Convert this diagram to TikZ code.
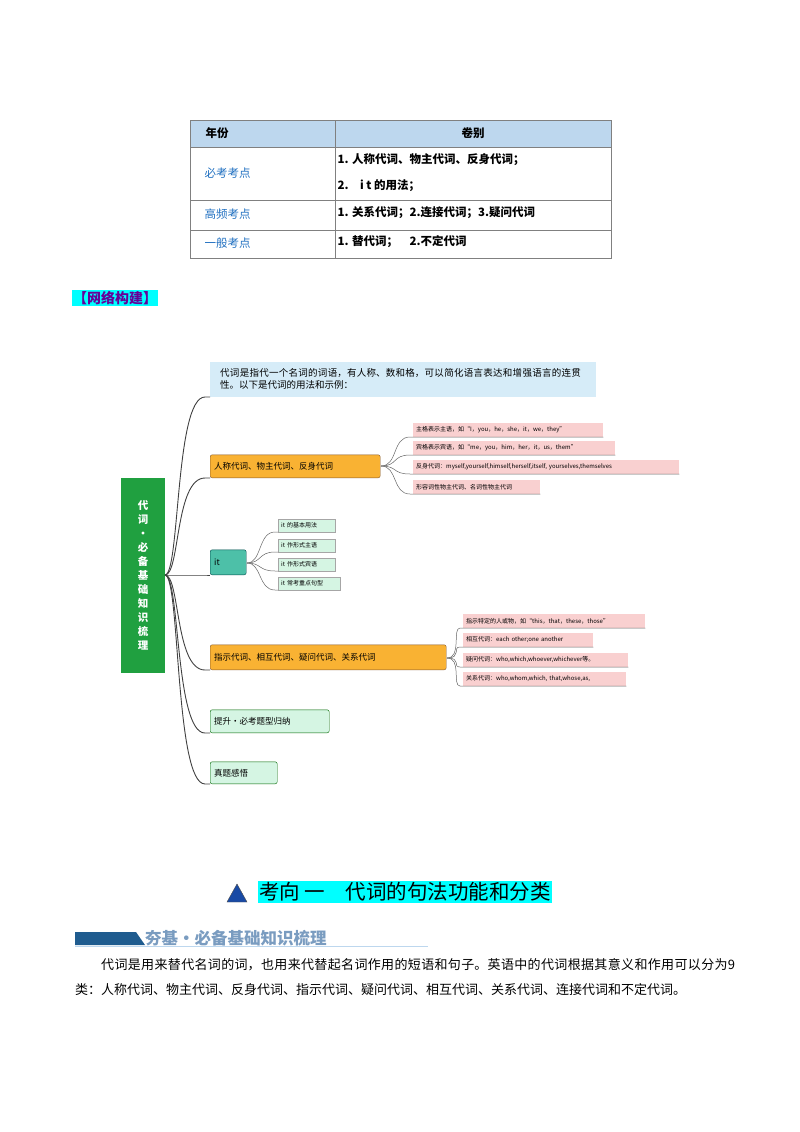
\documentclass[tikz,border=0pt]{standalone}
\usepackage{fontspec}
\setmainfont{Noto Sans CJK SC}
\XeTeXlinebreaklocale "zh"
\XeTeXlinebreakskip=0pt plus 1pt
\definecolor{hdr}{HTML}{BDD7EE}
\definecolor{cy}{HTML}{00FFFF}
\definecolor{bl}{HTML}{1F6FC0}
\definecolor{org}{HTML}{F9B233}
\definecolor{tl}{HTML}{4DC0A8}
\definecolor{lg}{HTML}{D5F5E3}
\definecolor{pkc}{HTML}{F9D0D0}
\definecolor{lb}{HTML}{D6ECF8}
\definecolor{gr}{HTML}{20A040}
\definecolor{ban}{HTML}{1F5C8F}
\definecolor{bantx}{HTML}{7A9CC0}
\begin{document}
\begin{tikzpicture}[x=1pt,y=-1pt,
 cell/.style={anchor=west,font=\fontsize{11.5}{13}\selectfont},
 bcell/.style={anchor=west,font=\bfseries\fontsize{11.5}{13}\selectfont},
 blue/.style={text=bl},
 pk/.style={fill=pkc,anchor=south west,inner xsep=3pt,inner ysep=1.5pt,font=\fontsize{6}{7}\selectfont,minimum height=14pt,align=left},
 gk/.style={fill=lg,draw=gray!70,line width=0.3pt,anchor=south west,inner xsep=3pt,inner ysep=1.5pt,font=\fontsize{6}{7}\selectfont,minimum height=13pt,align=left},
 br/.style={draw=black!75,line width=0.9pt},
 sb/.style={draw=black!60,line width=0.5pt},
 mn/.style={anchor=south west,inner sep=4pt,font=\fontsize{8.5}{10}\selectfont,rounded corners=2pt,align=left}]
\useasboundingbox (0,0) rectangle (800,1132);
% table
\fill[hdr] (190,120) rectangle (611,147);
\draw[black!50,line width=0.6pt] (190,120) rectangle (611,258);
\foreach \y in {147,200,230} \draw[black!50,line width=0.6pt] (190,\y)--(611,\y);
\draw[black!50,line width=0.6pt] (335,120)--(335,258);
\node[bcell] (h1) at (202,133) {年份};
\node[font=\bfseries\fontsize{11.5}{13}\selectfont] (h2) at (473,133) {卷别};
\node[cell,blue] (r1) at (201,173) {必考考点};
\node[cell,blue] (r2) at (201,214) {高频考点};
\node[cell,blue] (r3) at (201,243) {一般考点};
\node[bcell] (c1a) at (334,160) {1. 人称代词、物主代词、反身代词；};
\node[bcell] (c1b) at (334,186) {2.\quad i t 的用法；};
\node[bcell] (c2) at (334,213) {1. 关系代词；2.连接代词；3.疑问代词};
\node[bcell] (c3) at (334,242) {1. 替代词；\quad 2.不定代词};
% header
\node[anchor=west,fill=cy,inner sep=1pt,text=violet!80!blue,font=\bfseries\fontsize{14}{16}\selectfont] (hd) at (72,298) {【网络构建】};
% root
\node[fill=gr,text=white,minimum width=44pt,minimum height=195pt,inner sep=0pt,font=\bfseries\fontsize{10.5}{14}\selectfont,align=center] (root) at (143,575) {代\\词\\·\\必\\备\\基\\础\\知\\识\\梳\\理};
\coordinate (o) at (165,575);
% main nodes
\node[mn,fill=lb,rounded corners=0pt,text width=366pt,minimum height=35pt,inner xsep=10pt,font=\fontsize{9.5}{12}\selectfont] (n1) at (210,397) {代词是指代一个名词的词语，有人称、数和格，可以简化语言表达和增强语言的连贯性。以下是代词的用法和示例：};
\node[mn,fill=org,draw=brown!70!black,text width=162pt,minimum height=23pt] (n2) at (210,478) {人称代词、物主代词、反身代词};
\node[mn,fill=tl,draw=teal!60!black,text width=28pt,minimum height=25pt] (n3) at (210,575) {it};
\node[mn,fill=org,draw=brown!70!black,text width=228pt,minimum height=25pt] (n4) at (210,670) {指示代词、相互代词、疑问代词、关系代词};
\node[mn,fill=lg,draw=green!40!black,text width=111pt,minimum height=23pt] (n5) at (210,733) {提升·必考题型归纳};
\node[mn,fill=lg,draw=green!40!black,text width=59pt,minimum height=22pt] (n6) at (210,784) {真题感悟};
\foreach \n/\y in {n1/397,n2/478,n3/575,n4/670,n5/733,n6/784}{
 \draw[br] (o) .. controls (180,575) and (175,\y) .. (205,\y) -- (\n.south west);}
% n2 children
\coordinate (o2) at (381,466);
\foreach \t/\y/\w in {{主格表示主语，如“I，you，he，she，it，we，they”}/437/184,{宾格表示宾语，如“me，you，him，her，it，us，them”}/455/196,{反身代词：myself,yourself,himself,herself,itself, yourselves,themselves}/474/260,{形容词性物主代词、名词性物主代词}/494/121}{
 \node[pk,text width=\w pt] (a\y) at (413,\y) {\t};
 \draw[sb] (o2) .. controls (398,466) and (392,\y) .. (410,\y) -- (a\y.south east);}
% n3 children
\coordinate (o3) at (247,563);
\foreach \t/\y/\w in {{it 的基本用法}/532/51,{it 作形式主语}/552/51,{it 作形式宾语}/571/51,{it 常考重点句型}/590/56}{
 \node[gk,text width=\w pt] (b\y) at (278,\y) {\t};
 \draw[sb] (o3) .. controls (262,563) and (258,\y) .. (275,\y) -- (b\y.south west);}
% n4 children
\coordinate (o4) at (447,658);
\foreach \t/\y/\w in {{指示特定的人或物，如“this，that，these，those”}/628/176,{相互代词：each other;one another}/647/124,{疑问代词：who,which,whoever,whichever等。}/667/159,{关系代词：who,whom,which, that,whose,as,}/686/157}{
 \node[pk,text width=\w pt] (c\y) at (463,\y) {\t};
 \draw[sb] (o4) .. controls (462,658) and (452,\y) .. (460,\y) -- (c\y.south east);}
% title
\node[fill=cy,anchor=west,inner sep=1pt,font=\fontsize{20.5}{23}\selectfont] (tt) at (258,892) {考向\ 一\quad 代词的句法功能和分类};
\draw[fill=ban!80!blue,draw=black!70] (227,902)--(247,902)--(237,884)--cycle;
% banner
\fill[ban] (75,932)--(136,932)--(145,945)--(75,945)--cycle;
\draw[hdr,line width=1pt] (75,946.5)--(428,946.5);
\node[anchor=south west,inner sep=0pt,text=bantx,font=\bfseries\fontsize{16.5}{18}\selectfont] (bt) at (145,946) {夯基·必备基础知识梳理};
% paragraph
\node[anchor=north west,text width=660pt,align=justify,inner sep=0pt,font=\fontsize{13}{25}\selectfont] (p) at (75,958) {\hspace*{26pt}代词是用来替代名词的词，也用来代替起名词作用的短语和句子。英语中的代词根据其意义和作用可以分为9类：人称代词、物主代词、反身代词、指示代词、疑问代词、相互代词、关系代词、连接代词和不定代词。};
\end{tikzpicture}
\end{document}
